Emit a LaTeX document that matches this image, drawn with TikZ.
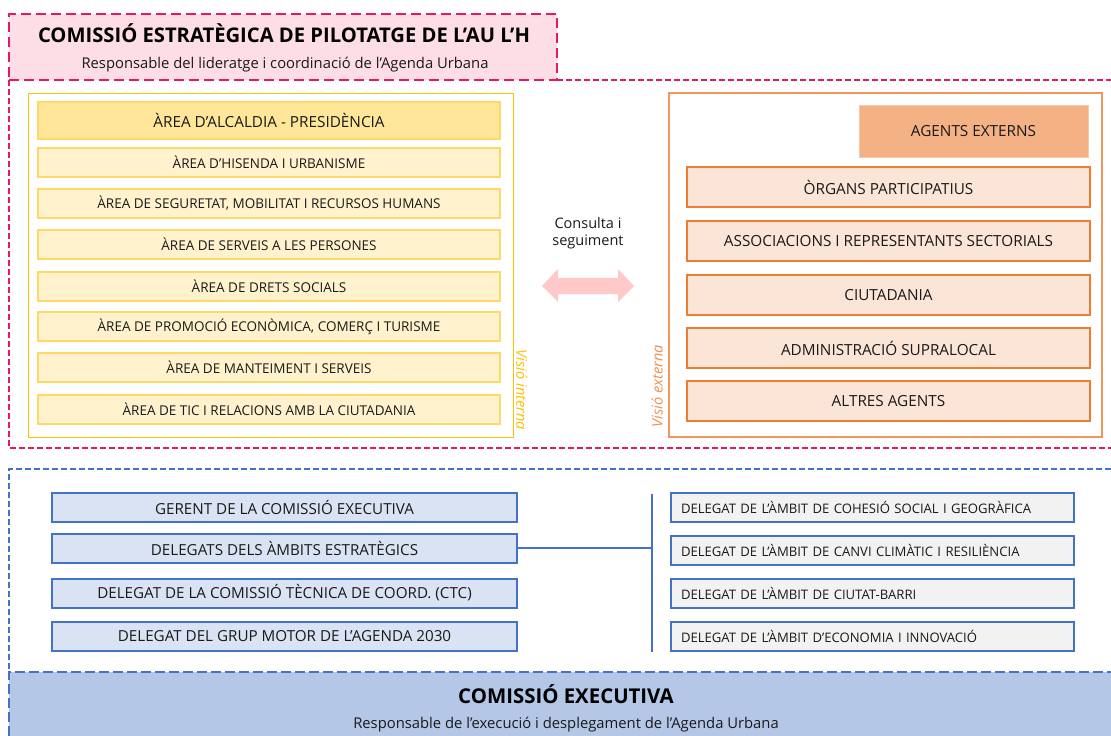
\documentclass[tikz,border=0pt]{standalone}
\usepackage{fontspec}
\setmainfont{Open Sans}
\newfontfamily\cond{Open Sans}
\definecolor{pinkline}{HTML}{E8195C}
\definecolor{pinkfill}{HTML}{FDDDE6}
\definecolor{goldline}{HTML}{FFC000}
\definecolor{yhead}{HTML}{FFE699}
\definecolor{yline}{HTML}{FFD966}
\definecolor{yfill}{HTML}{FFF2CC}
\definecolor{orline}{HTML}{ED7D31}
\definecolor{orhead}{HTML}{F4B183}
\definecolor{orfill}{HTML}{FBE5D6}
\definecolor{blline}{HTML}{4472C4}
\definecolor{blfill}{HTML}{DAE3F3}
\definecolor{blbottom}{HTML}{B4C7E7}
\definecolor{grfill}{HTML}{F2F2F2}
\definecolor{arrowpink}{HTML}{FFC9C9}
\definecolor{txt}{HTML}{1A1A1A}
\tikzset{
  ybox/.style={draw=yline, fill=yfill, line width=2pt, minimum width=462pt, minimum height=29pt, inner sep=0pt, text=txt, font=\cond\fontsize{13.5}{15}\selectfont},
  yheadbox/.style={ybox, fill=yhead, minimum height=37pt, font=\cond\fontsize{15.3}{18}\selectfont},
  obox/.style={draw=orline, fill=orfill, line width=2pt, minimum width=403pt, minimum height=40pt, inner sep=0pt, text=txt, font=\cond\fontsize{15.3}{18}\selectfont},
  oheadbox/.style={draw=orhead!70, fill=orhead, line width=1pt, minimum width=229pt, minimum height=52pt, inner sep=0pt, text=txt, font=\cond\fontsize{15.3}{18}\selectfont},
  lbox/.style={draw=blline, fill=blfill, line width=2pt, minimum width=465pt, minimum height=29pt, inner sep=0pt, text=txt, font=\cond\fontsize{15.2}{18}\selectfont},
  rbox/.style={draw=blline, fill=grfill, line width=2pt, minimum width=403pt, minimum height=29pt, inner xsep=10pt, inner ysep=0pt, text width=383pt, align=left, text=txt, font=\cond\fontsize{13.1}{15}\selectfont},
  sidelabel/.style={font=\itshape\fontsize{14.6}{16}\selectfont},
}
\begin{document}
\begin{tikzpicture}[x=1pt,y=-1pt]
\useasboundingbox (0,0) rectangle (1111,736);
\fill[white] (0,0) rectangle (1111,736);

% ---------- top (strategic) section ----------
\draw[pinkline, line width=1.5pt, dash pattern=on 6pt off 3pt]
  (9,80) -- (9,448) -- (1111,448);
\draw[pinkline, line width=1.5pt, dash pattern=on 6pt off 3pt]
  (557,80) -- (1111,80);
\node[draw=pinkline, fill=pinkfill, line width=2pt, dash pattern=on 10pt off 5pt,
      minimum width=548pt, minimum height=66pt, inner sep=0pt] (title) at (283,47) {};
\node[font=\bfseries\fontsize{20.2}{23}\selectfont, text=black] (titletxt) at (284,33) {COMISSIÓ ESTRATÈGICA DE PILOTATGE DE L’AU L’H};
\node[font=\fontsize{14.8}{17}\selectfont, text=txt] (titlesub) at (285,64.5) {Responsable del lideratge i coordinació de l’Agenda Urbana};

% internal view
\draw[goldline, line width=1pt] (28,93) rectangle (513,437);
\node[yheadbox] (alc) at (269,120.5) {ÀREA D’ALCALDIA - PRESIDÈNCIA};
\node[ybox] (a1) at (269,162.5) {ÀREA D’HISENDA I URBANISME};
\node[ybox] (a2) at (269,203.5) {ÀREA DE SEGURETAT, MOBILITAT I RECURSOS HUMANS};
\node[ybox] (a3) at (269,244.5) {ÀREA DE SERVEIS A LES PERSONES};
\node[ybox] (a4) at (269,286.5) {ÀREA DE DRETS SOCIALS};
\node[ybox] (a5) at (269,326.5) {ÀREA DE PROMOCIÓ ECONÒMICA, COMERÇ I TURISME};
\node[ybox] (a6) at (269,367.5) {ÀREA DE MANTEIMENT I SERVEIS};
\node[ybox] (a7) at (269,409.5) {ÀREA DE TIC I RELACIONS AMB LA CIUTADANIA};
\node[sidelabel, text=goldline, rotate=-90] (vint) at (522,390) {Visió interna};

% middle
\node[font=\fontsize{14.5}{17}\selectfont, text=txt, align=center] (consulta) at (588,233) {Consulta i\\seguiment};
\fill[arrowpink] (542,286) -- (558,269) -- (558,278) -- (618,278) -- (618,269) -- (634,286)
  -- (618,302) -- (618,294) -- (558,294) -- (558,302) -- cycle;

% external view
\draw[orline!80, line width=1.2pt] (669,93) rectangle (1102,437);
\node[oheadbox] (ext) at (973.5,131) {AGENTS EXTERNS};
\node[obox] (e1) at (888.5,187) {ÒRGANS PARTICIPATIUS};
\node[obox] (e2) at (888.5,241) {ASSOCIACIONS I REPRESENTANTS SECTORIALS};
\node[obox] (e3) at (888.5,295) {CIUTADANIA};
\node[obox] (e4) at (888.5,348) {ADMINISTRACIÓ SUPRALOCAL};
\node[obox] (e5) at (888.5,401) {ALTRES AGENTS};
\node[sidelabel, text=orline!85, rotate=90] (vext) at (657,386) {Visió externa};

% ---------- bottom (executive) section ----------
\draw[blline, line width=1.3pt, dash pattern=on 6pt off 3pt]
  (1111,469) -- (9,469) -- (9,672);
\fill[blbottom] (9,672) rectangle (1111,736);
\draw[blline, line width=2pt, dash pattern=on 10pt off 4pt] (9,736) -- (9,672) -- (1111,672);
\node[font=\bfseries\fontsize{20.4}{23}\selectfont, text=black] (exec) at (566,694) {COMISSIÓ EXECUTIVA};
\node[font=\fontsize{14.8}{17}\selectfont, text=txt] (execsub) at (566,724.5) {Responsable de l’execució i desplegament de l’Agenda Urbana};

\node[lbox] (l1) at (284.5,507) {GERENT DE LA COMISSIÓ EXECUTIVA};
\node[lbox] (l2) at (284.5,548) {DELEGATS DELS ÀMBITS ESTRATÈGICS};
\node[lbox] (l3) at (284.5,593) {DELEGAT DE LA COMISSIÓ TÈCNICA DE COORD. (CTC)};
\node[lbox] (l4) at (284.5,636) {DELEGAT DEL GRUP MOTOR DE L’AGENDA 2030};

\node[rbox] (r1) at (872.5,507) {DELEGAT DE L’ÀMBIT DE COHESIÓ SOCIAL I GEOGRÀFICA};
\node[rbox] (r2) at (872.5,550) {DELEGAT DE L’ÀMBIT DE CANVI CLIMÀTIC I RESILIÈNCIA};
\node[rbox] (r3) at (872.5,593) {DELEGAT DE L’ÀMBIT DE CIUTAT-BARRI};
\node[rbox] (r4) at (872.5,636) {DELEGAT DE L’ÀMBIT D’ECONOMIA I INNOVACIÓ};

\coordinate (vt) at (652,494);
\coordinate (vb) at (652,652);
\draw[blline, line width=1.5pt] (vt) -- (vb);
\draw[blline, line width=1.5pt] (l2.east) -- (l2.east -| vt);
\end{tikzpicture}
\end{document}
